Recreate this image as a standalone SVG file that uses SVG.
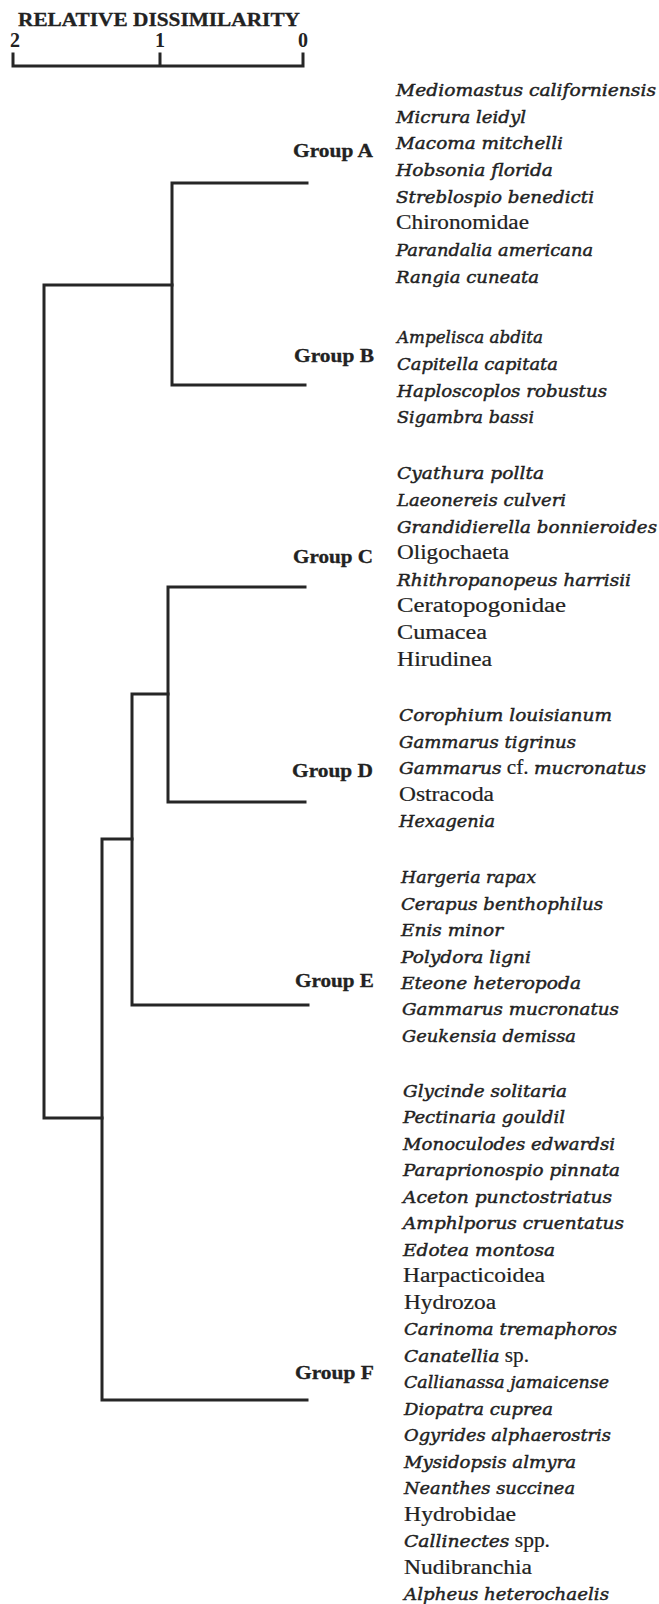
<svg xmlns="http://www.w3.org/2000/svg" width="659" height="1604" viewBox="0 0 659 1604">
<style>
.bg{fill:#ffffff}
.ln{stroke:#262626;stroke-width:3;fill:none;stroke-linecap:square;stroke-linejoin:miter}
.ttl{font-family:"Liberation Serif","Times New Roman",serif;font-weight:bold;font-size:19px;fill:#222;stroke:#222;stroke-width:0.3}
.num{font-family:"Liberation Serif","Times New Roman",serif;font-weight:bold;font-size:20px;fill:#222;text-anchor:middle}
.grp{font-family:"Liberation Serif","Times New Roman",serif;font-weight:bold;font-size:19px;fill:#222;stroke:#222;stroke-width:0.3}
.sp{font-family:"DejaVu Serif","Liberation Serif",serif;font-style:italic;font-size:17.5px;fill:#222;stroke:#222;stroke-width:0.45}
.up{font-family:"Liberation Serif","Times New Roman",serif;font-style:normal;font-size:20px;fill:#222;stroke:#222;stroke-width:0.2}
.it{font-family:"DejaVu Serif","Liberation Serif",serif;font-style:italic;font-size:17.5px;stroke:#222;stroke-width:0.45}
.rm{font-family:"Liberation Serif","Times New Roman",serif;font-style:normal;font-size:20px;stroke:#222;stroke-width:0.2}
</style>
<rect class="bg" x="0" y="0" width="659" height="1604"/>

<g id="scale">
  <text class="ttl" x="18" y="26" textLength="282" lengthAdjust="spacingAndGlyphs">RELATIVE DISSIMILARITY</text>
  <text class="num" x="15" y="47">2</text>
  <text class="num" x="160" y="47">1</text>
  <text class="num" x="303" y="47">0</text>
  <path class="ln" d="M13,54 V66 H303 V54 M160,54 V66"/>
</g>

<g id="connectors">
  <path class="ln" d="M307,183 H172 V385 H305"/>
  <path class="ln" d="M305,587 H168 V802 H305"/>
  <path class="ln" d="M168,694 H132 V1005 H308"/>
  <path class="ln" d="M132,839 H102 V1400 H307"/>
  <path class="ln" d="M172,285 H44 V1118 H102"/>
</g>

<g id="groupA">
  <text class="grp" x="293" y="157" textLength="80" lengthAdjust="spacingAndGlyphs">Group A</text>
  <text class="sp" x="396" y="96" textLength="260" lengthAdjust="spacingAndGlyphs">Mediomastus californiensis</text>
  <text class="sp" x="396" y="122.7" textLength="130" lengthAdjust="spacingAndGlyphs">Micrura leidyl</text>
  <text class="sp" x="396" y="149.3" textLength="167" lengthAdjust="spacingAndGlyphs">Macoma mitchelli</text>
  <text class="sp" x="396" y="176" textLength="157" lengthAdjust="spacingAndGlyphs">Hobsonia florida</text>
  <text class="sp" x="396" y="202.6" textLength="198" lengthAdjust="spacingAndGlyphs">Streblospio benedicti</text>
  <text class="up" x="396" y="229.3" textLength="133" lengthAdjust="spacingAndGlyphs">Chironomidae</text>
  <text class="sp" x="396" y="256" textLength="197" lengthAdjust="spacingAndGlyphs">Parandalia americana</text>
  <text class="sp" x="396" y="282.6" textLength="143" lengthAdjust="spacingAndGlyphs">Rangia cuneata</text>
</g>

<g id="groupB">
  <text class="grp" x="294" y="362" textLength="80" lengthAdjust="spacingAndGlyphs">Group B</text>
  <text class="sp" x="397" y="343.3" textLength="146" lengthAdjust="spacingAndGlyphs">Ampelisca abdita</text>
  <text class="sp" x="397" y="370" textLength="161" lengthAdjust="spacingAndGlyphs">Capitella capitata</text>
  <text class="sp" x="397" y="396.7" textLength="210" lengthAdjust="spacingAndGlyphs">Haploscoplos robustus</text>
  <text class="sp" x="397" y="423.3" textLength="137" lengthAdjust="spacingAndGlyphs">Sigambra bassi</text>
</g>

<g id="groupC">
  <text class="grp" x="293" y="563" textLength="80" lengthAdjust="spacingAndGlyphs">Group C</text>
  <text class="sp" x="397" y="479.3" textLength="147" lengthAdjust="spacingAndGlyphs">Cyathura pollta</text>
  <text class="sp" x="397" y="506" textLength="169" lengthAdjust="spacingAndGlyphs">Laeonereis culveri</text>
  <text class="sp" x="397" y="532.6" textLength="260" lengthAdjust="spacingAndGlyphs">Grandidierella bonnieroides</text>
  <text class="up" x="397" y="559.2" textLength="112" lengthAdjust="spacingAndGlyphs">Oligochaeta</text>
  <text class="sp" x="397" y="585.8" textLength="234" lengthAdjust="spacingAndGlyphs">Rhithropanopeus harrisii</text>
  <text class="up" x="397" y="612.4" textLength="169" lengthAdjust="spacingAndGlyphs">Ceratopogonidae</text>
  <text class="up" x="397" y="639" textLength="90" lengthAdjust="spacingAndGlyphs">Cumacea</text>
  <text class="up" x="397" y="665.6" textLength="95" lengthAdjust="spacingAndGlyphs">Hirudinea</text>
</g>

<g id="groupD">
  <text class="grp" x="292" y="777" textLength="81" lengthAdjust="spacingAndGlyphs">Group D</text>
  <text class="sp" x="399" y="721" textLength="213" lengthAdjust="spacingAndGlyphs">Corophium louisianum</text>
  <text class="sp" x="399" y="747.6" textLength="177" lengthAdjust="spacingAndGlyphs">Gammarus tigrinus</text>
  <text x="399" y="774.2" textLength="247" lengthAdjust="spacingAndGlyphs" fill="#222"><tspan class="it">Gammarus</tspan><tspan class="rm"> cf. </tspan><tspan class="it">mucronatus</tspan></text>
  <text class="up" x="399" y="800.8" textLength="95" lengthAdjust="spacingAndGlyphs">Ostracoda</text>
  <text class="sp" x="399" y="827.4" textLength="96" lengthAdjust="spacingAndGlyphs">Hexagenia</text>
</g>

<g id="groupE">
  <text class="grp" x="295" y="987" textLength="79" lengthAdjust="spacingAndGlyphs">Group E</text>
  <text class="sp" x="401" y="883.3" textLength="135" lengthAdjust="spacingAndGlyphs">Hargeria rapax</text>
  <text class="sp" x="401" y="909.7" textLength="202" lengthAdjust="spacingAndGlyphs">Cerapus benthophilus</text>
  <text class="sp" x="401" y="936.1" textLength="102" lengthAdjust="spacingAndGlyphs">Enis minor</text>
  <text class="sp" x="401" y="962.5" textLength="130" lengthAdjust="spacingAndGlyphs">Polydora ligni</text>
  <text class="sp" x="401" y="988.9" textLength="180" lengthAdjust="spacingAndGlyphs">Eteone heteropoda</text>
  <text class="sp" x="402" y="1015.3" textLength="217" lengthAdjust="spacingAndGlyphs">Gammarus mucronatus</text>
  <text class="sp" x="402" y="1041.7" textLength="174" lengthAdjust="spacingAndGlyphs">Geukensia demissa</text>
</g>

<g id="groupF">
  <text class="grp" x="295" y="1379" textLength="79" lengthAdjust="spacingAndGlyphs">Group F</text>
  <text class="sp" x="403" y="1096.7" textLength="164" lengthAdjust="spacingAndGlyphs">Glycinde solitaria</text>
  <text class="sp" x="403" y="1123.2" textLength="162" lengthAdjust="spacingAndGlyphs">Pectinaria gouldil</text>
  <text class="sp" x="403" y="1149.7" textLength="212" lengthAdjust="spacingAndGlyphs">Monoculodes edwardsi</text>
  <text class="sp" x="403" y="1176.2" textLength="217" lengthAdjust="spacingAndGlyphs">Paraprionospio pinnata</text>
  <text class="sp" x="403" y="1202.7" textLength="209" lengthAdjust="spacingAndGlyphs">Aceton punctostriatus</text>
  <text class="sp" x="403" y="1229.2" textLength="221" lengthAdjust="spacingAndGlyphs">Amphlporus cruentatus</text>
  <text class="sp" x="403" y="1255.6" textLength="152" lengthAdjust="spacingAndGlyphs">Edotea montosa</text>
  <text class="up" x="403" y="1282.1" textLength="142" lengthAdjust="spacingAndGlyphs">Harpacticoidea</text>
  <text class="up" x="404" y="1308.6" textLength="92" lengthAdjust="spacingAndGlyphs">Hydrozoa</text>
  <text class="sp" x="404" y="1335.1" textLength="213" lengthAdjust="spacingAndGlyphs">Carinoma tremaphoros</text>
  <text x="404" y="1361.6" textLength="125" lengthAdjust="spacingAndGlyphs" fill="#222"><tspan class="it">Canatellia</tspan><tspan class="rm"> sp.</tspan></text>
  <text class="sp" x="404" y="1388.1" textLength="205" lengthAdjust="spacingAndGlyphs">Callianassa jamaicense</text>
  <text class="sp" x="404" y="1414.6" textLength="149" lengthAdjust="spacingAndGlyphs">Diopatra cuprea</text>
  <text class="sp" x="404" y="1441.1" textLength="207" lengthAdjust="spacingAndGlyphs">Ogyrides alphaerostris</text>
  <text class="sp" x="404" y="1467.6" textLength="172" lengthAdjust="spacingAndGlyphs">Mysidopsis almyra</text>
  <text class="sp" x="404" y="1494" textLength="171" lengthAdjust="spacingAndGlyphs">Neanthes succinea</text>
  <text class="up" x="404" y="1520.5" textLength="112" lengthAdjust="spacingAndGlyphs">Hydrobidae</text>
  <text x="404" y="1547" textLength="146" lengthAdjust="spacingAndGlyphs" fill="#222"><tspan class="it">Callinectes</tspan><tspan class="rm"> spp.</tspan></text>
  <text class="up" x="404" y="1573.5" textLength="128" lengthAdjust="spacingAndGlyphs">Nudibranchia</text>
  <text class="sp" x="404" y="1600" textLength="205" lengthAdjust="spacingAndGlyphs">Alpheus heterochaelis</text>
</g>
</svg>
